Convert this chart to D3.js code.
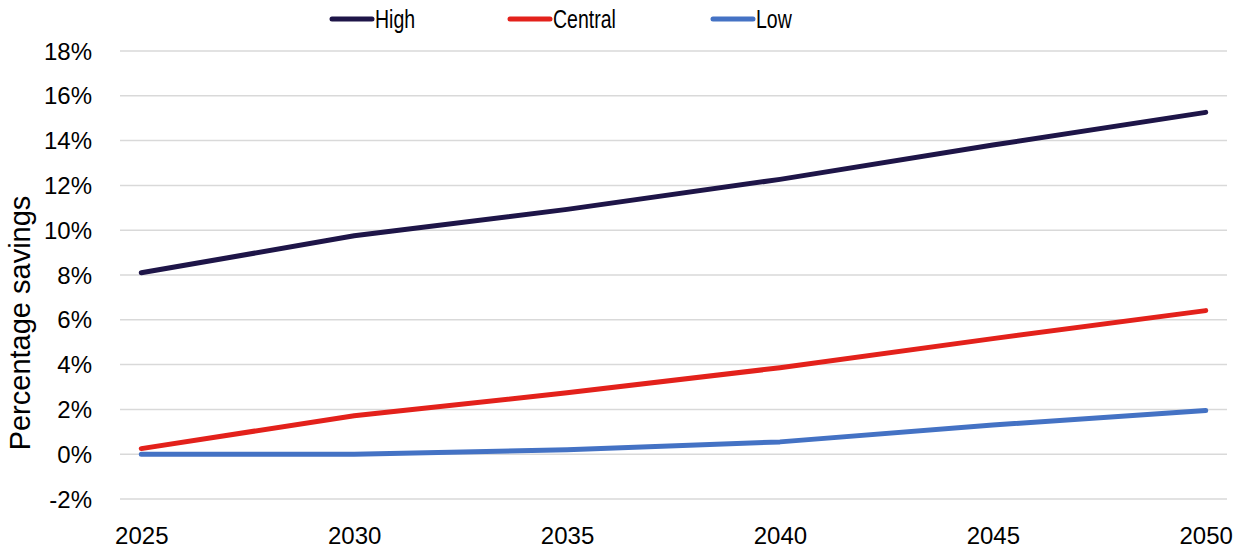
<!DOCTYPE html>
<html>
<head>
<meta charset="utf-8">
<script src="https://cdn.jsdelivr.net/npm/d3@7"></script>
<style>
  body { margin: 0; background: #fff; }
  text { font-family: "Liberation Sans", Arial, sans-serif; fill: #000; }
</style>
</head>
<body>
<svg id="chart" width="1246" height="554"></svg>
<script>
const years = [2025, 2030, 2035, 2040, 2045, 2050]
const high = [8.1, 9.75, 10.93, 12.27, 13.8, 15.26]
const central = [0.25, 1.72, 2.74, 3.86, 5.16, 6.41]
const low = [0, 0, 0.2, 0.55, 1.3, 1.95]
const yTicks = [-2, 0, 2, 4, 6, 8, 10, 12, 14, 16, 18]

const series = [
  { name: 'High', color: '#1e1548', values: high },
  { name: 'Central', color: '#e3211b', values: central },
  { name: 'Low', color: '#4472c4', values: low }
]

const svg = d3.select('#chart')
const plot = { left: 120, right: 1227, top: 51, bottom: 499 }

// yearly category axis, points sit in the middle of each year slot
const x = d3.scaleLinear().domain([2024.5, 2050.5]).range([plot.left, plot.right])
const y = d3.scaleLinear().domain([-2, 18]).range([plot.bottom, plot.top])

svg.append('g')
  .selectAll('line')
  .data(yTicks)
  .join('line')
    .attr('x1', plot.left).attr('x2', plot.right)
    .attr('y1', d => y(d)).attr('y2', d => y(d))
    .attr('stroke', '#d9d9d9')
    .attr('stroke-width', 1.5)

const yAxis = svg.append('g')
  .attr('transform', 'translate(' + plot.left + ',0)')
  .call(d3.axisLeft(y).tickValues(yTicks).tickFormat(d => d + '%').tickSize(0).tickPadding(28))
yAxis.select('.domain').remove()
yAxis.selectAll('text').style('font-size', '24px').attr('dy', '0.34em')

const xAxis = svg.append('g')
  .attr('transform', 'translate(0,' + plot.bottom + ')')
  .call(d3.axisBottom(x).tickValues(years).tickFormat(d3.format('d')).tickSize(0).tickPadding(28))
xAxis.select('.domain').remove()
xAxis.selectAll('text').style('font-size', '24px')

svg.append('text')
  .attr('transform', 'translate(30,323) rotate(-90)')
  .attr('text-anchor', 'middle')
  .style('font-size', '29px')
  .text('Percentage savings')

const line = d3.line()
  .x((d, i) => x(years[i]))
  .y(d => y(d))

svg.append('g')
  .selectAll('path')
  .data(series)
  .join('path')
    .attr('d', d => line(d.values))
    .attr('fill', 'none')
    .attr('stroke', d => d.color)
    .attr('stroke-width', 5)
    .attr('stroke-linecap', 'round')
    .attr('stroke-linejoin', 'round')

// legend
const legendX = [332, 510, 713]
const lg = svg.append('g')
  .selectAll('g')
  .data(series)
  .join('g')
    .attr('transform', (d, i) => 'translate(' + legendX[i] + ',19)')
lg.append('line')
  .attr('x1', 0).attr('x2', 40)
  .attr('stroke', d => d.color)
  .attr('stroke-width', 5)
  .attr('stroke-linecap', 'round')
lg.append('text')
  .attr('transform', 'translate(43,9) scale(0.75,1)')
  .style('font-size', '26px')
  .text(d => d.name)
</script>
</body>
</html>
